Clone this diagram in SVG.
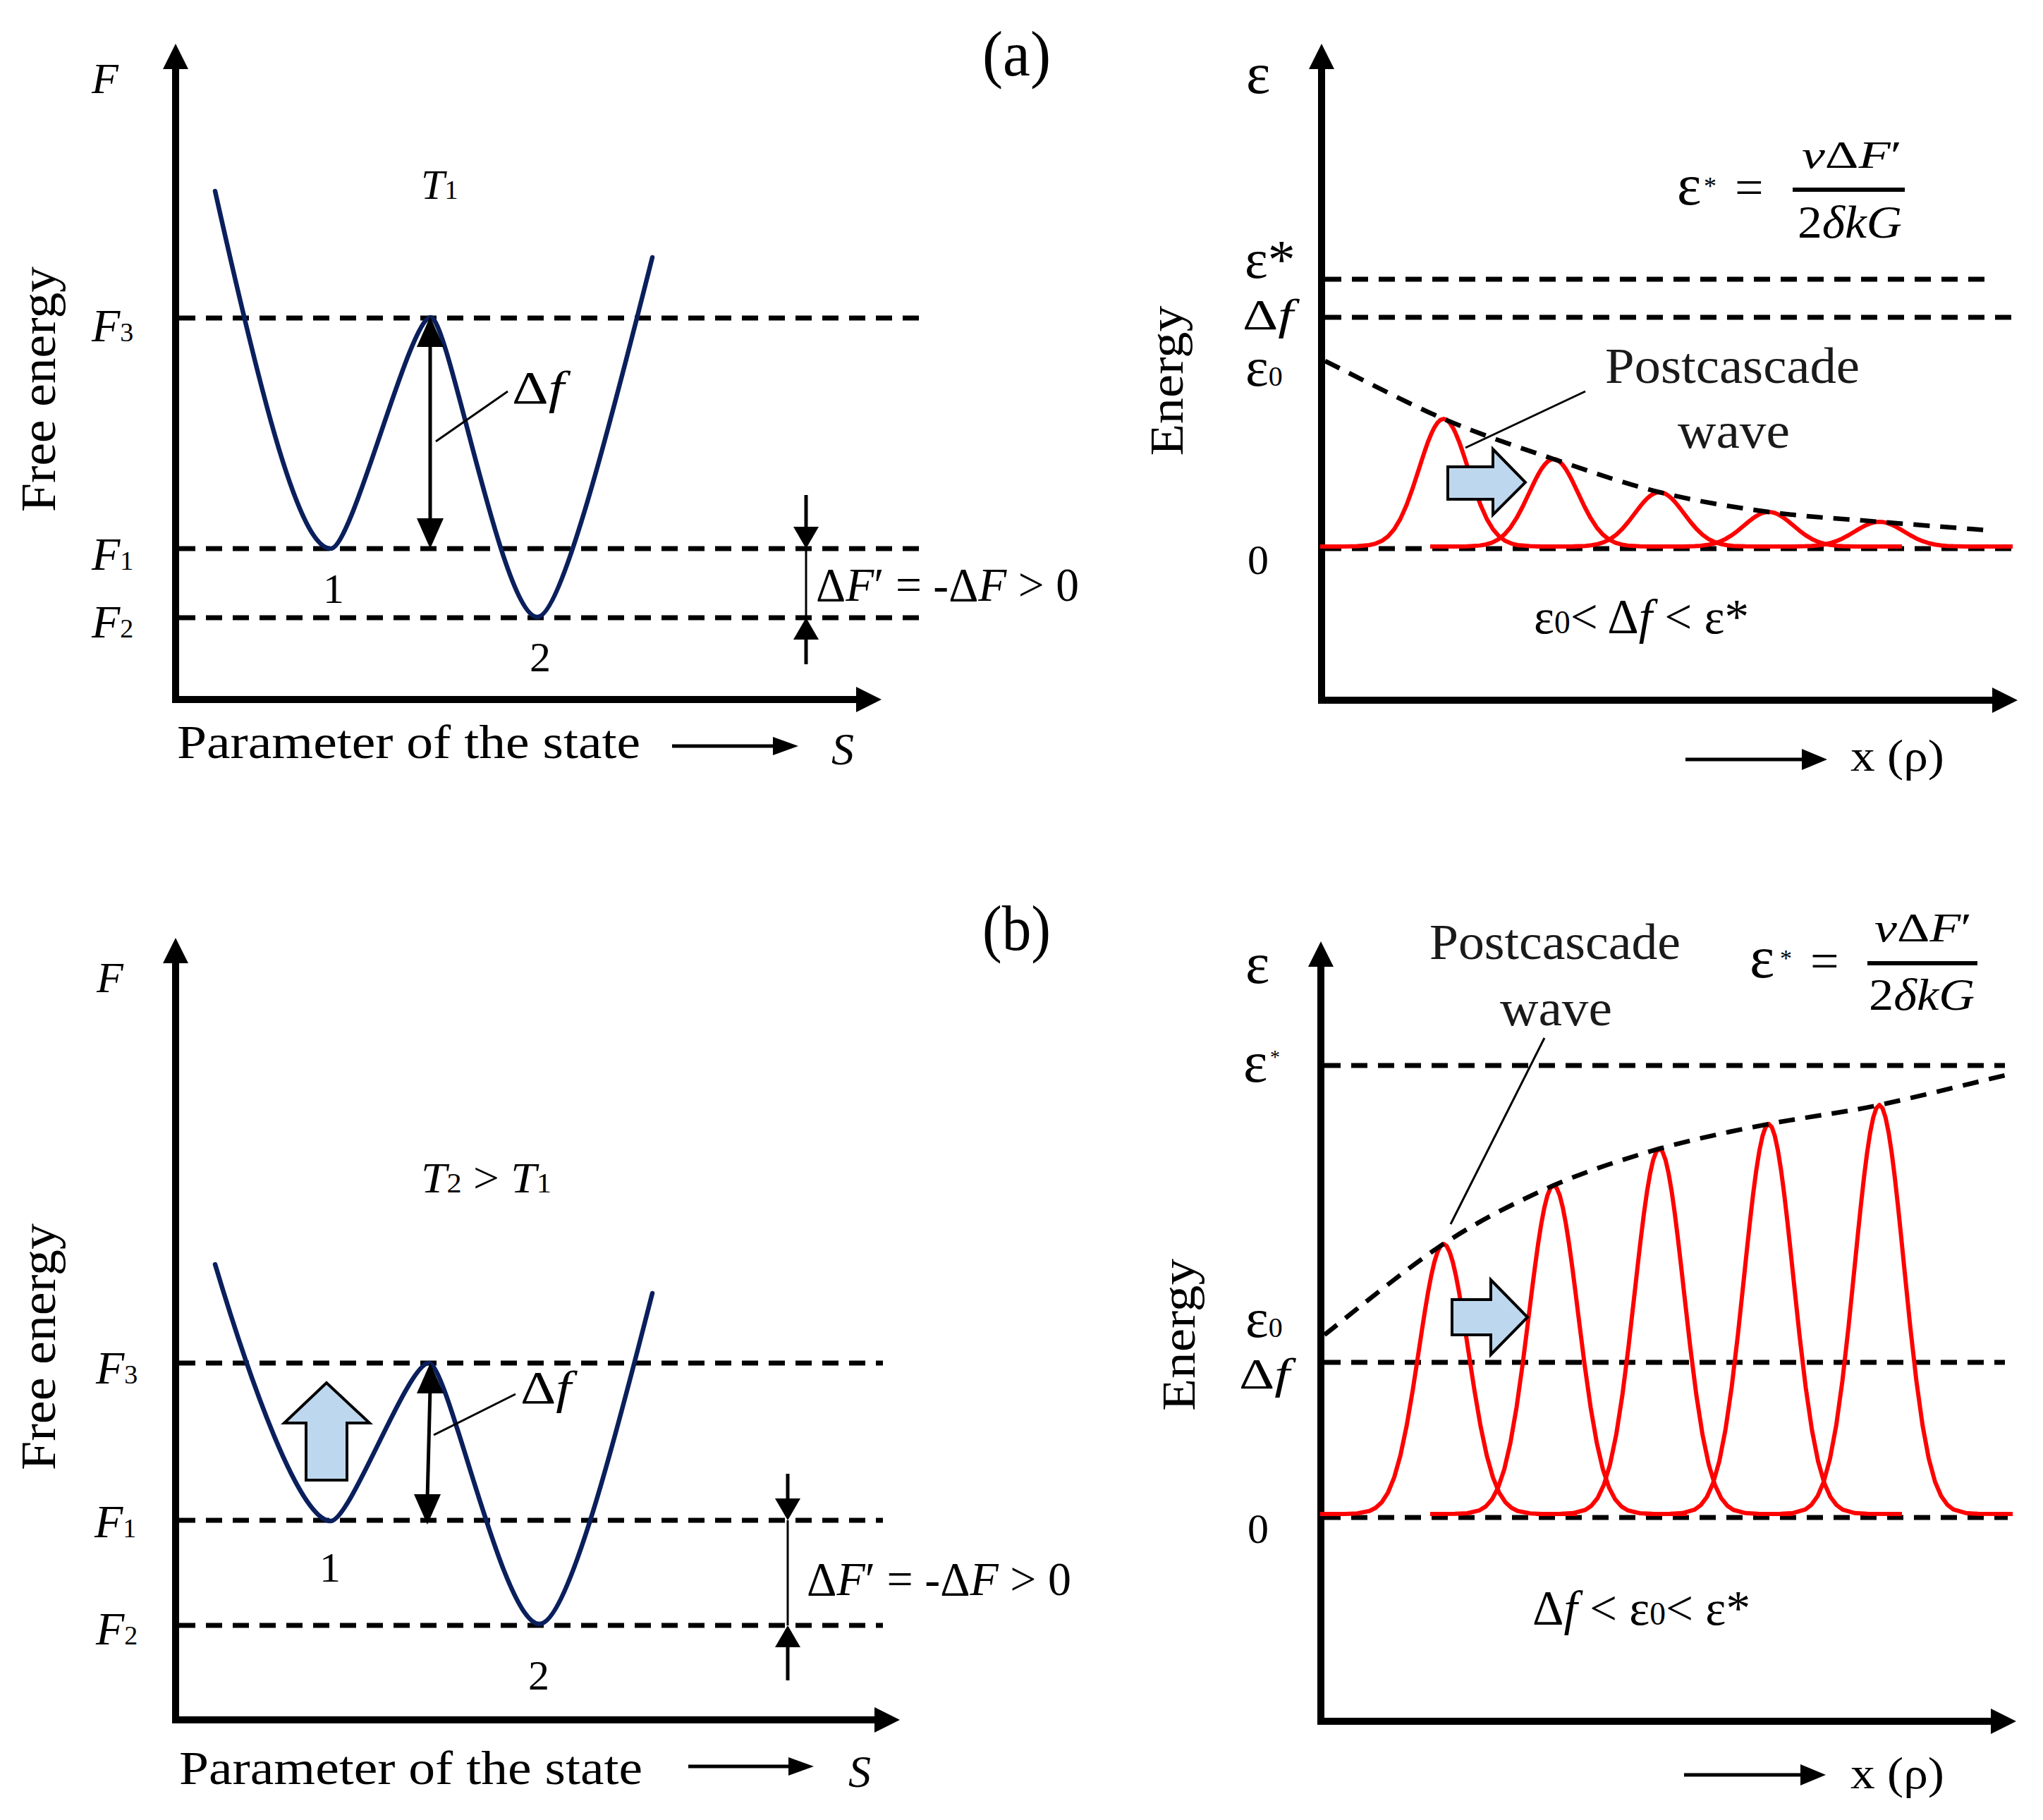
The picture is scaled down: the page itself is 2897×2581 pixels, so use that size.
<svg xmlns="http://www.w3.org/2000/svg" xmlns:xlink="http://www.w3.org/1999/xlink" width="2897" height="2581" viewBox="0 0 2897 2581">
<style>
text{font-family:"Liberation Serif","Times New Roman",serif;fill:#000}
.it{font-style:italic}
.axis{stroke:#000;stroke-width:10;fill:none}
.dash{stroke:#000;stroke-width:7;stroke-dasharray:23 15;fill:none}
.well{stroke:#0a1f5c;stroke-width:6.5;fill:none;stroke-linecap:round}
.thin{stroke:#000;stroke-width:3;fill:none}
.shaft{stroke:#000;stroke-width:5;fill:none}
.head{fill:#000;stroke:none}
.fat{fill:#bdd7ee;stroke:#000;stroke-width:4;stroke-linejoin:miter}
.env{stroke:#000;stroke-width:6.5;stroke-dasharray:23 15;fill:none}
.pc{fill:#1a1a1a}
</style>
<defs>
<path id="gauss" fill="none" stroke="#ff0000" stroke-width="6" stroke-linejoin="round" vector-effect="non-scaling-stroke" d="M-50,0 L-40,-0.03 -35,-0.22 -30,-1.11 -27.5,-2.28 -25,-4.39 -22.5,-7.96 -20,-13.53 -17.5,-21.63 -15,-32.47 -12.5,-45.78 -10,-60.65 -8.75,-68.19 -7.5,-75.48 -6.25,-82.26 -5,-88.25 -3.75,-93.21 -2.5,-96.92 -1.25,-99.22 0,-100 1.25,-99.22 2.5,-96.92 3.75,-93.21 5,-88.25 6.25,-82.26 7.5,-75.48 8.75,-68.19 10,-60.65 12.5,-45.78 15,-32.47 17.5,-21.63 20,-13.53 22.5,-7.96 25,-4.39 27.5,-2.28 30,-1.11 35,-0.22 40,-0.03 54,0"/>
</defs>
<rect width="2897" height="2581" fill="#fff"/>

<!-- ===================== (a) left ===================== -->
<g id="a-left">
  <g id="a-left-axes">
    <line class="axis" x1="249" y1="997" x2="249" y2="95"/>
    <polygon class="head" points="249,62 231,98 267,98"/>
    <line class="axis" x1="244" y1="992" x2="1216" y2="992"/>
    <polygon class="head" points="1250,992 1214,974 1214,1010"/>
  </g>
  <g id="a-left-levels">
    <line class="dash" x1="254" y1="451" x2="1304" y2="451"/>
    <line class="dash" x1="254" y1="778" x2="1304" y2="778"/>
    <line class="dash" x1="254" y1="876" x2="1304" y2="876"/>
  </g>
  <path id="a-well" class="well" d="M305,271 C372,571 425,778 469,778 C500,778 580,450 611,450 C636,450 712,875 762,875 C795,875 862,615 925,365"/>
  <g id="a-left-connectors">
    <line class="shaft" x1="610" y1="485" x2="610" y2="742"/>
    <polygon class="head" points="610,449 591,492 629,492"/>
    <polygon class="head" points="610,778 591,735 629,735"/>
    <line class="thin" x1="618" y1="626" x2="720" y2="555"/>
    <line class="shaft" x1="1143" y1="702" x2="1143" y2="752"/>
    <polygon class="head" points="1143,778 1125,747 1161,747"/>
    <line class="thin" x1="1143" y1="778" x2="1143" y2="876"/>
    <polygon class="head" points="1143,876 1125,907 1161,907"/>
    <line class="shaft" x1="1143" y1="902" x2="1143" y2="942"/>
    <line class="shaft" x1="953" y1="1058" x2="1100" y2="1058"/>
    <polygon class="head" points="1132,1058 1096,1045 1096,1071"/>
  </g>
  <g id="a-left-labels">
    <text x="130" y="132" font-size="62" class="it">F</text>
    <text transform="translate(78,552) rotate(-90)" text-anchor="middle" font-size="70" textLength="348" lengthAdjust="spacingAndGlyphs">Free energy</text>
    <text x="597" y="282" font-size="60"><tspan class="it">T</tspan><tspan font-size="38">1</tspan></text>
    <text x="130" y="484" font-size="66"><tspan class="it">F</tspan><tspan font-size="38">3</tspan></text>
    <text x="130" y="808" font-size="66"><tspan class="it">F</tspan><tspan font-size="38">1</tspan></text>
    <text x="130" y="904" font-size="66"><tspan class="it">F</tspan><tspan font-size="38">2</tspan></text>
    <text x="458" y="855" font-size="60">1</text>
    <text x="751" y="952" font-size="60">2</text>
    <text x="726" y="572" font-size="66" textLength="74" lengthAdjust="spacingAndGlyphs">Δ<tspan class="it">f</tspan></text>
    <text x="1157" y="852" font-size="68" textLength="373" lengthAdjust="spacingAndGlyphs">Δ<tspan class="it">F</tspan>′ = -Δ<tspan class="it">F</tspan> &gt; 0</text>
    <text x="251" y="1075" font-size="68" textLength="657" lengthAdjust="spacingAndGlyphs">Parameter of the state</text>
    <text x="1179" y="1084" font-size="64" class="it">S</text>
    <text x="1393" y="107" font-size="92" textLength="97" lengthAdjust="spacingAndGlyphs">(a)</text>
  </g>
</g>

<!-- ===================== (a) right ===================== -->
<g id="a-right">
  <g id="a-right-axes">
    <line class="axis" x1="1874" y1="997" x2="1874" y2="95"/>
    <polygon class="head" points="1874,62 1856,98 1892,98"/>
    <line class="axis" x1="1869" y1="993" x2="2828" y2="993"/>
    <polygon class="head" points="2861,993 2825,975 2825,1011"/>
  </g>
  <g id="a-right-levels">
    <line class="dash" x1="1879" y1="396" x2="2822" y2="396"/>
    <line class="dash" x1="1879" y1="450" x2="2860" y2="450"/>
    <line class="dash" x1="1879" y1="778" x2="2855" y2="778"/>
  </g>
  <g id="a-waves">
    <use xlink:href="#gauss" transform="translate(2047,775) scale(3.5,1.81)"/>
    <use xlink:href="#gauss" transform="translate(2203,775) scale(3.5,1.24)"/>
    <use xlink:href="#gauss" transform="translate(2353,775) scale(3.5,0.77)"/>
    <use xlink:href="#gauss" transform="translate(2508,775) scale(3.5,0.49)"/>
    <use xlink:href="#gauss" transform="translate(2665,775) scale(3.5,0.35)"/>
  </g>
  <path id="a-envelope" class="env" d="M1879,512 C1904,524 1992,570.5 2047,594 C2102,617.5 2152,633.7 2203,651 C2254,668.3 2302,685.5 2353,698 C2404,710.5 2456,719 2508,726 C2560,733 2613,735.7 2665,740 C2717,744.3 2794,750 2820,752"/>
  <g id="a-right-connectors">
    <line class="thin" x1="2078" y1="635" x2="2248" y2="555"/>
    <polygon class="fat" points="2053,662 2117,662 2117,637 2163,684 2117,730 2117,708 2053,708"/>
    <line class="shaft" x1="2390" y1="1077" x2="2560" y2="1077"/>
    <polygon class="head" points="2591,1077 2555,1062 2555,1092"/>
    <line x1="2542" y1="269" x2="2701" y2="269" stroke="#000" stroke-width="6"/>
  </g>
  <g id="a-right-labels">
    <text x="1767" y="132" font-size="82">ε</text>
    <text transform="translate(1677,540) rotate(-90)" text-anchor="middle" font-size="68" textLength="213" lengthAdjust="spacingAndGlyphs">Energy</text>
    <text x="1765" y="394" font-size="78">ε*</text>
    <text x="1762" y="467" font-size="62" textLength="72" lengthAdjust="spacingAndGlyphs">Δ<tspan class="it">f</tspan></text>
    <text x="1766" y="547" font-size="78">ε<tspan font-size="40">0</tspan></text>
    <text x="1769" y="814" font-size="60">0</text>
    <text x="2378" y="290" font-size="82">ε</text>
    <text x="2416" y="276" font-size="36">*</text>
    <text x="2460" y="290" font-size="72">=</text>
    <text x="2555" y="238" font-size="54" textLength="142" lengthAdjust="spacingAndGlyphs"><tspan class="it">ν</tspan>Δ<tspan class="it">F</tspan>′</text>
    <text x="2549" y="337" font-size="66" textLength="148" lengthAdjust="spacingAndGlyphs">2<tspan class="it">δkG</tspan></text>
    <text class="pc" x="2276" y="543" font-size="72" textLength="361" lengthAdjust="spacingAndGlyphs">Postcascade</text>
    <text class="pc" x="2379" y="635" font-size="72" textLength="159" lengthAdjust="spacingAndGlyphs">wave</text>
    <text x="2175" y="898" font-size="70" textLength="305" lengthAdjust="spacingAndGlyphs">ε<tspan font-size="46">0</tspan>&lt; Δ<tspan class="it">f</tspan> &lt; ε*</text>
    <text x="2624" y="1093" font-size="64" textLength="133" lengthAdjust="spacingAndGlyphs">x (ρ)</text>
  </g>
</g>

<!-- ===================== (b) left ===================== -->
<g id="b-left">
  <g id="b-left-axes">
    <line class="axis" x1="249" y1="2444" x2="249" y2="1363"/>
    <polygon class="head" points="249,1330 231,1366 267,1366"/>
    <line class="axis" x1="244" y1="2439" x2="1242" y2="2439"/>
    <polygon class="head" points="1276,2439 1240,2421 1240,2457"/>
  </g>
  <g id="b-left-levels">
    <line class="dash" x1="254" y1="1933" x2="1252" y2="1933"/>
    <line class="dash" x1="254" y1="2156" x2="1252" y2="2156"/>
    <line class="dash" x1="254" y1="2305" x2="1252" y2="2305"/>
  </g>
  <path id="b-well" class="well" d="M305,1793 C355,1960 425,2157 469,2157 C497,2157 578,1933 608,1933 C636,1933 712,2303 765,2303 C805,2303 874,2034 925,1834"/>
  <g id="b-left-connectors">
    <polygon class="fat" points="434,2099 492,2099 492,2018 524,2018 463,1961 403,2018 434,2018"/>
    <line class="shaft" x1="610" y1="1968" x2="606" y2="2126"/>
    <polygon class="head" points="610,1933 591,1976 629,1976"/>
    <polygon class="head" points="606,2162 587,2119 625,2119"/>
    <line class="thin" x1="615" y1="2035" x2="731" y2="1977"/>
    <line class="shaft" x1="1117" y1="2090" x2="1117" y2="2130"/>
    <polygon class="head" points="1117,2156 1099,2125 1135,2125"/>
    <line class="thin" x1="1117" y1="2156" x2="1117" y2="2305"/>
    <polygon class="head" points="1117,2305 1099,2336 1135,2336"/>
    <line class="shaft" x1="1117" y1="2330" x2="1117" y2="2383"/>
    <line class="shaft" x1="976" y1="2505" x2="1122" y2="2505"/>
    <polygon class="head" points="1154,2505 1118,2492 1118,2518"/>
  </g>
  <g id="b-left-labels">
    <text x="137" y="1407" font-size="62" class="it">F</text>
    <text x="1393" y="1347" font-size="92" textLength="97" lengthAdjust="spacingAndGlyphs">(b)</text>
    <text x="597" y="1691" font-size="62" textLength="185" lengthAdjust="spacingAndGlyphs"><tspan class="it">T</tspan><tspan font-size="40">2</tspan> &gt; <tspan class="it">T</tspan><tspan font-size="40">1</tspan></text>
    <text transform="translate(78,1910) rotate(-90)" text-anchor="middle" font-size="70" textLength="350" lengthAdjust="spacingAndGlyphs">Free energy</text>
    <text x="136" y="1962" font-size="66"><tspan class="it">F</tspan><tspan font-size="38">3</tspan></text>
    <text x="134" y="2180" font-size="66"><tspan class="it">F</tspan><tspan font-size="38">1</tspan></text>
    <text x="136" y="2332" font-size="66"><tspan class="it">F</tspan><tspan font-size="38">2</tspan></text>
    <text x="453" y="2243" font-size="60">1</text>
    <text x="749" y="2396" font-size="60">2</text>
    <text x="738" y="1990" font-size="66" textLength="72" lengthAdjust="spacingAndGlyphs">Δ<tspan class="it">f</tspan></text>
    <text x="1144" y="2262" font-size="68" textLength="375" lengthAdjust="spacingAndGlyphs">Δ<tspan class="it">F</tspan>′ = -Δ<tspan class="it">F</tspan> &gt; 0</text>
    <text x="254" y="2530" font-size="68" textLength="657" lengthAdjust="spacingAndGlyphs">Parameter of the state</text>
    <text x="1203" y="2534" font-size="64" class="it">S</text>
  </g>
</g>

<!-- ===================== (b) right ===================== -->
<g id="b-right">
  <g id="b-right-axes">
    <line class="axis" x1="1873" y1="2446" x2="1873" y2="1368"/>
    <polygon class="head" points="1873,1335 1855,1371 1891,1371"/>
    <line class="axis" x1="1868" y1="2441" x2="2826" y2="2441"/>
    <polygon class="head" points="2859,2441 2823,2423 2823,2459"/>
  </g>
  <g id="b-right-levels">
    <line class="dash" x1="1878" y1="1511" x2="2843" y2="1511"/>
    <line class="dash" x1="1878" y1="1932" x2="2843" y2="1932"/>
    <line class="dash" x1="1878" y1="2152" x2="2847" y2="2152"/>
  </g>
  <g id="b-waves">
    <use xlink:href="#gauss" transform="translate(2047,2147) scale(3.5,3.83)"/>
    <use xlink:href="#gauss" transform="translate(2203,2147) scale(3.5,4.66)"/>
    <use xlink:href="#gauss" transform="translate(2353,2147) scale(3.5,5.18)"/>
    <use xlink:href="#gauss" transform="translate(2508,2147) scale(3.5,5.53)"/>
    <use xlink:href="#gauss" transform="translate(2665,2147) scale(3.5,5.80)"/>
  </g>
  <path id="b-envelope" class="env" d="M1878,1893 C1904,1873 1992,1800 2047,1764 C2102,1728 2152,1704 2203,1681 C2254,1659 2302,1644 2353,1629 C2404,1615 2456,1604 2508,1594 C2560,1584 2608,1579 2665,1567 C2721,1555 2817,1531 2847,1524"/>
  <g id="b-right-connectors">
    <line class="thin" x1="2057" y1="1736" x2="2190" y2="1472"/>
    <polygon class="fat" points="2059,1843 2114,1843 2114,1815 2166,1868 2114,1921 2114,1893 2059,1893"/>
    <line class="shaft" x1="2388" y1="2517" x2="2558" y2="2517"/>
    <polygon class="head" points="2589,2517 2553,2502 2553,2532"/>
    <line x1="2648" y1="1366" x2="2804" y2="1366" stroke="#000" stroke-width="6"/>
  </g>
  <g id="b-right-labels">
    <text x="1766" y="1394" font-size="82">ε</text>
    <text x="1763" y="1534" font-size="82">ε</text>
    <text x="1801" y="1508" font-size="28">*</text>
    <text x="1766" y="1896" font-size="78">ε<tspan font-size="40">0</tspan></text>
    <text x="1757" y="1969" font-size="62" textLength="72" lengthAdjust="spacingAndGlyphs">Δ<tspan class="it">f</tspan></text>
    <text x="1769" y="2188" font-size="60">0</text>
    <text transform="translate(1694,1893) rotate(-90)" text-anchor="middle" font-size="68" textLength="216" lengthAdjust="spacingAndGlyphs">Energy</text>
    <text class="pc" x="2027" y="1360" font-size="72" textLength="356" lengthAdjust="spacingAndGlyphs">Postcascade</text>
    <text class="pc" x="2127" y="1454" font-size="72" textLength="159" lengthAdjust="spacingAndGlyphs">wave</text>
    <text x="2481" y="1386" font-size="84">ε</text>
    <text x="2524" y="1370" font-size="34">*</text>
    <text x="2567" y="1387" font-size="72">=</text>
    <text x="2658" y="1335" font-size="57" textLength="138" lengthAdjust="spacingAndGlyphs"><tspan class="it">ν</tspan>Δ<tspan class="it">F</tspan>′</text>
    <text x="2650" y="1432" font-size="64" textLength="150" lengthAdjust="spacingAndGlyphs">2<tspan class="it">δkG</tspan></text>
    <text x="2173" y="2304" font-size="70" textLength="309" lengthAdjust="spacingAndGlyphs">Δ<tspan class="it">f</tspan> &lt; ε<tspan font-size="46">0</tspan>&lt; ε*</text>
    <text x="2624" y="2536" font-size="64" textLength="133" lengthAdjust="spacingAndGlyphs">x (ρ)</text>
  </g>
</g>
</svg>
